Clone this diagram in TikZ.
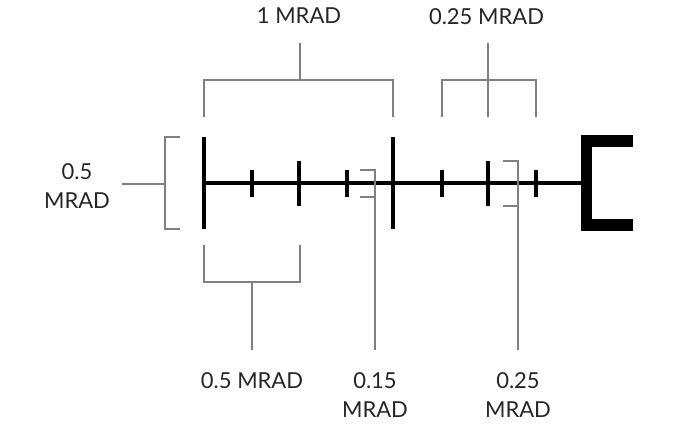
\documentclass[tikz,border=0pt]{standalone}
\usepackage{fontspec}
\setmainfont{Lato}
\begin{document}
\begin{tikzpicture}[x=1pt,y=-1pt,
  lbl/.style={font=\fontsize{22}{29.5}\selectfont,inner sep=0pt,anchor=north,align=center,text=black!85},
  leader/.style={draw=black!50,line width=1.5pt,line cap=butt,line join=miter},
  rule/.style={draw=black,line width=4pt,line cap=butt},
  tick/.style={draw=black,line width=4.8pt,line cap=butt},
  endbar/.style={draw=black,line width=11.5pt,line cap=butt,line join=miter}]
\useasboundingbox (0,0) rectangle (680,430);
% main reticle line
\coordinate (L) at (204,183.5);
\coordinate (R) at (581,183.5);
\draw[rule] (L) -- (R);
% major ticks
\foreach \n/\x in {a/204,b/393}{
  \coordinate (\n t) at (\x,137); \coordinate (\n b) at (\x,229);
  \draw[tick] (\n t) -- (\n b);}
% medium ticks
\foreach \n/\x in {c/299,d/488}{
  \coordinate (\n t) at (\x,161); \coordinate (\n b) at (\x,206);
  \draw[tick] (\n t) -- (\n b);}
% small ticks
\foreach \n/\x in {e/252,f/347,g/442,h/536}{
  \coordinate (\n t) at (\x,170); \coordinate (\n b) at (\x,197);
  \draw[tick] (\n t) -- (\n b);}
% thick end bracket
\coordinate (E1) at (633,141);
\coordinate (E2) at (586.5,141);
\coordinate (E3) at (586.5,225);
\coordinate (E4) at (633,225);
\draw[endbar] (E1) -- (E2) -- (E3) -- (E4);

% labels
\node[lbl] (l05v) at (77,163) {0.5\\MRAD};
\node[lbl] (l1)   at (299,8) {1 MRAD};
\node[lbl] (l025t) at (486.5,8) {0.25 MRAD};
\node[lbl] (l05h) at (252,372) {0.5 MRAD};
\node[lbl] (l015) at (375,372) {0.15\\MRAD};
\node[lbl] (l025b) at (518,372) {0.25\\MRAD};

% left 0.5 MRAD bracket
\coordinate (p1) at (180,137); \coordinate (p2) at (165,137);
\coordinate (p3) at (165,229); \coordinate (p4) at (180,229);
\coordinate (p5) at (122,184); \coordinate (p6) at (165,184);
\draw[leader] (p1) -- (p2) -- (p3) -- (p4);
\draw[leader] (p5) -- (p6);

% 0.15 MRAD bracket
\coordinate (q1) at (360,170); \coordinate (q2) at (375,170);
\coordinate (q3) at (375,350); \coordinate (q4) at (360,197);
\coordinate (q5) at (375,197);
\draw[leader] (q1) -- (q2) -- (q3);
\draw[leader] (q4) -- (q5);

% 0.25 MRAD bottom bracket
\coordinate (r1) at (503,161); \coordinate (r2) at (518,161);
\coordinate (r3) at (518,350); \coordinate (r4) at (503,206);
\coordinate (r5) at (518,206);
\draw[leader] (r1) -- (r2) -- (r3);
\draw[leader] (r4) -- (r5);

% top 1 MRAD bracket
\coordinate (s1) at (204,117); \coordinate (s2) at (204,80);
\coordinate (s3) at (393,80); \coordinate (s4) at (393,117);
\coordinate (s5) at (300,80); \coordinate (s6) at (300,43);
\draw[leader] (s1) -- (s2) -- (s3) -- (s4);
\draw[leader] (s5) -- (s6);

% top 0.25 MRAD bracket
\coordinate (t1) at (442,117); \coordinate (t2) at (442,80);
\coordinate (t3) at (536,80); \coordinate (t4) at (536,117);
\coordinate (t5) at (488,43); \coordinate (t6) at (488,117);
\draw[leader] (t1) -- (t2) -- (t3) -- (t4);
\draw[leader] (t5) -- (t6);

% bottom 0.5 MRAD bracket
\coordinate (u1) at (204,245); \coordinate (u2) at (204,282);
\coordinate (u3) at (300,282); \coordinate (u4) at (300,245);
\coordinate (u5) at (252,282); \coordinate (u6) at (252,350);
\draw[leader] (u1) -- (u2) -- (u3) -- (u4);
\draw[leader] (u5) -- (u6);
\end{tikzpicture}
\end{document}
